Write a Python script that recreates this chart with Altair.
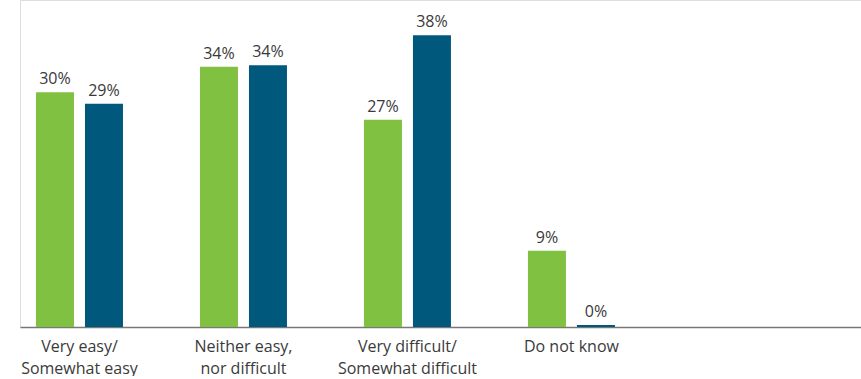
import altair as alt
import pandas as pd

categories = ["Very easy/\nSomewhat easy", "Neither easy,\nnor difficult",
              "Very difficult/\nSomewhat difficult", "Do not know"]
series = ["Series A", "Series B"]
green_values = [30.5, 33.8, 26.9, 9.9]
blue_values = [29.0, 34.0, 37.9, 0.26]
green_labels = ["30%", "34%", "27%", "9%"]
blue_labels = ["29%", "34%", "38%", "0%"]
colors = ["#80C141", "#00597C"]

rows = []
for c, v, l in zip(categories, green_values, green_labels):
    rows.append({"cat": c, "series": series[0], "value": v, "label": l})
for c, v, l in zip(categories, blue_values, blue_labels):
    rows.append({"cat": c, "series": series[1], "value": v, "label": l})
df = pd.DataFrame(rows)

x = alt.X("cat:N", sort=categories, title=None,
          scale=alt.Scale(paddingInner=0.4695, paddingOuter=0.799, align=0.061),
          axis=alt.Axis(labelExpr="split(datum.value, '\\n')", labelAngle=0,
                        ticks=False, domainColor="#777777", domainWidth=1.6,
                        labelFont="Open Sans", labelFontSize=16, labelColor="#3a3a3a",
                        labelPadding=11, labelLineHeight=22, labelBaseline="top"))
xo = alt.XOffset("series:N", sort=series,
                 scale=alt.Scale(paddingInner=0.2245, paddingOuter=0))
y = alt.Y("value:Q", scale=alt.Scale(domain=[0, 327 / 7.7], nice=False, zero=True),
          axis=None)

base = alt.Chart(df).encode(x=x, xOffset=xo, y=y)

bars = base.mark_bar().encode(
    color=alt.Color("series:N", scale=alt.Scale(domain=series, range=colors), legend=None)
)
text = base.mark_text(baseline="alphabetic", dy=-8, font="Open Sans", fontSize=16,
                      color="#3a3a3a").encode(text="label:N")

chart = (bars + text).properties(
    width=841, height=327,
    padding={"left": 20, "top": 0, "right": 0, "bottom": 0},
).configure_view(stroke=None).configure(background="white")

chart.save("out.html", embed_options={"renderer": "svg", "actions": False})
